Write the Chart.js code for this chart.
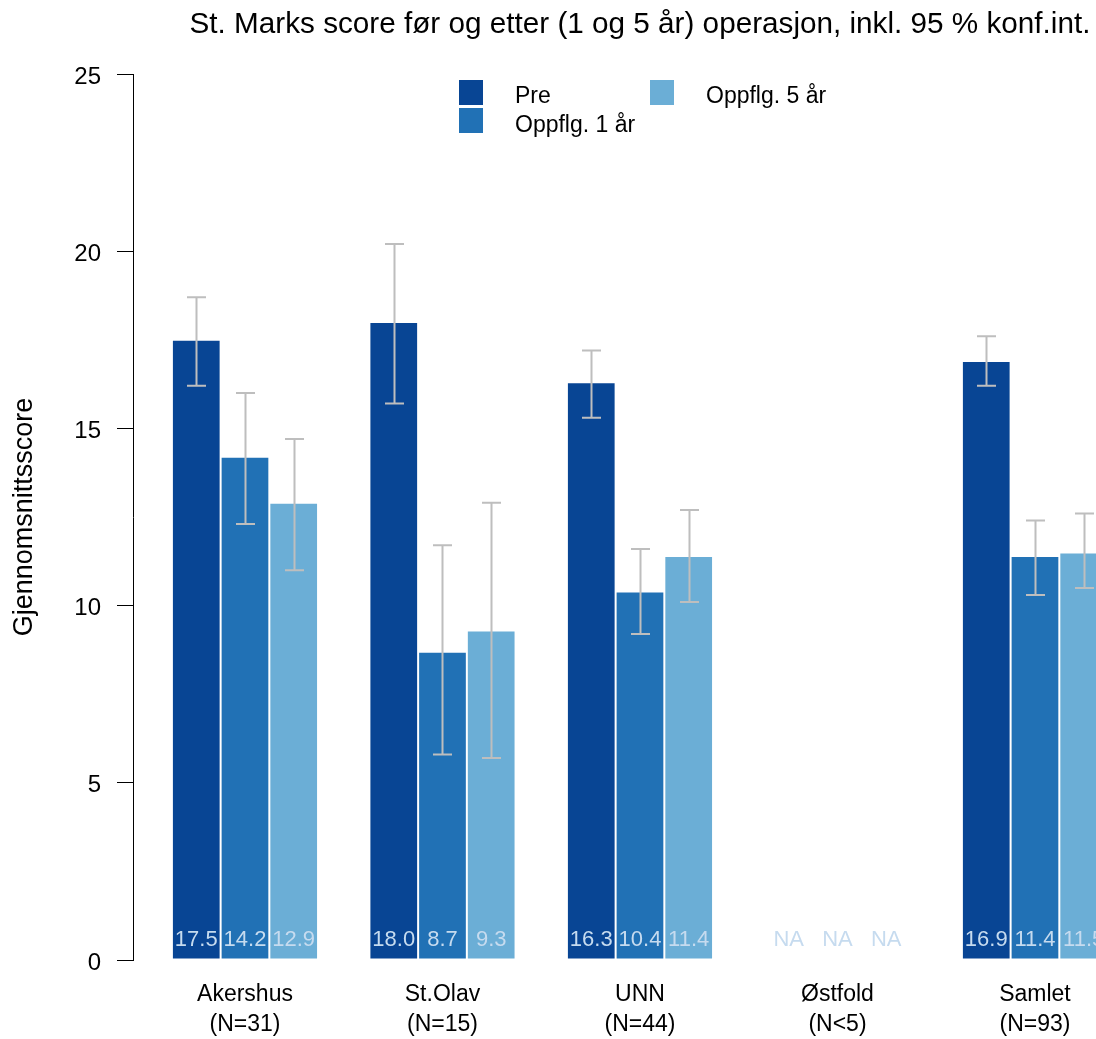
<!DOCTYPE html>
<html>
<head>
<meta charset="utf-8">
<script src="https://cdn.jsdelivr.net/npm/chart.js@4"></script>
<style>
  html, body { margin: 0; padding: 0; background: #ffffff; }
  #wrap { position: relative; width: 1096px; height: 1039px; overflow: hidden; }
</style>
</head>
<body>
<div id="wrap"><canvas id="c" width="1096" height="1039"></canvas></div>
<script>
// Hospitals (x categories) with patient counts
const hospitals = ['Akershus', 'St.Olav', 'UNN', 'Østfold', 'Samlet'];
const patientCounts = ['(N=31)', '(N=15)', '(N=44)', '(N<5)', '(N=93)'];

// Mean St. Marks score per timepoint (null = not reported)
const preScore   = [17.5, 18.0, 16.3, null, 16.9];
const year1Score = [14.2, 8.7, 10.4, null, 11.4];
const year5Score = [12.9, 9.3, 11.4, null, 11.5];

// 95 % confidence interval bounds
const preLow    = [16.2, 15.7, 15.3, null, 16.2];
const preHigh   = [18.7, 20.2, 17.2, null, 17.6];
const year1Low  = [12.3, 5.8, 9.2, null, 10.3];
const year1High = [16.0, 11.7, 11.6, null, 12.4];
const year5Low  = [11.0, 5.7, 10.1, null, 10.5];
const year5High = [14.7, 12.9, 12.7, null, 12.6];

// Axis ticks
const yTicks = [0, 5, 10, 15, 20, 25];

const seriesLabels = ['Pre', 'Oppflg. 1 år', 'Oppflg. 5 år'];
const seriesColors = ['#084594', '#2171b5', '#6baed6'];
const ciColor = '#bebebe';
const valueLabelColor = '#c6dbef';
const FONT = '"Liberation Sans", Arial, sans-serif';

const toPoints = arr => arr.map((v, i) => ({ x: i, y: v }));

const intervals = [
  { low: preLow, high: preHigh },
  { low: year1Low, high: year1High },
  { low: year5Low, high: year5High }
];

// Error bars, value labels, title and legend
const annotations = {
  id: 'annotations',
  afterDatasetsDraw(chart) {
    const ctx = chart.ctx;
    const y = chart.scales.y;
    const x = chart.scales.x;
    ctx.save();

    // confidence interval whiskers
    chart.data.datasets.forEach((ds, di) => {
      const meta = chart.getDatasetMeta(di);
      const ci = intervals[di];
      meta.data.forEach((bar, i) => {
        if (ci.low[i] == null) return;
        const cx = Math.round(bar.x) + 0.5;
        const yl = y.getPixelForValue(ci.low[i]);
        const yh = y.getPixelForValue(ci.high[i]);
        ctx.strokeStyle = ciColor;
        ctx.lineWidth = 2;
        ctx.beginPath();
        ctx.moveTo(cx, yl); ctx.lineTo(cx, yh);
        ctx.moveTo(cx - 9.5, yl); ctx.lineTo(cx + 9.5, yl);
        ctx.moveTo(cx - 9.5, yh); ctx.lineTo(cx + 9.5, yh);
        ctx.stroke();
      });
    });

    // value labels at bar bottoms
    ctx.font = '22px ' + FONT;
    ctx.textAlign = 'center';
    ctx.textBaseline = 'alphabetic';
    ctx.fillStyle = valueLabelColor;
    chart.data.datasets.forEach((ds, di) => {
      const meta = chart.getDatasetMeta(di);
      meta.data.forEach((bar, i) => {
        const v = ds.data[i].y;
        const txt = v == null ? 'NA' : v.toFixed(1);
        ctx.fillText(txt, bar.x, 946);
      });
    });

    // title centred over the plot region
    ctx.fillStyle = '#000000';
    ctx.font = '29.7px ' + FONT;
    ctx.textAlign = 'center';
    ctx.fillText('St. Marks score før og etter (1 og 5 år) operasjon, inkl. 95 % konf.int.',
      x.getPixelForValue(2), 33);

    // legend (two columns)
    const items = [
      { sx: 459, sy: 80, tx: 515, ty: 103 },
      { sx: 459, sy: 108, tx: 515, ty: 132 },
      { sx: 650, sy: 80, tx: 706, ty: 103 }
    ];
    ctx.font = '23px ' + FONT;
    ctx.textAlign = 'left';
    items.forEach((it, k) => {
      ctx.fillStyle = chart.data.datasets[k].backgroundColor;
      ctx.fillRect(it.sx, it.sy, 24, 25);
      ctx.fillStyle = '#000000';
      ctx.fillText(chart.data.datasets[k].label, it.tx, it.ty);
    });

    ctx.restore();
  }
};

new Chart(document.getElementById('c'), {
  type: 'bar',
  data: {
    datasets: [
      { label: seriesLabels[0], data: toPoints(preScore),   backgroundColor: seriesColors[0] },
      { label: seriesLabels[1], data: toPoints(year1Score), backgroundColor: seriesColors[1] },
      { label: seriesLabels[2], data: toPoints(year5Score), backgroundColor: seriesColors[2] }
    ]
  },
  options: {
    responsive: false,
    animation: false,
    devicePixelRatio: 1,
    layout: { padding: { top: 74, right: 0, bottom: 0, left: 0 } },
    datasets: {
      bar: {
        borderColor: '#ffffff',
        borderWidth: 1,
        borderSkipped: false,
        categoryPercentage: 0.74,
        barPercentage: 1.0
      }
    },
    plugins: {
      legend: { display: false },
      title: { display: false },
      tooltip: { enabled: false }
    },
    scales: {
      x: {
        type: 'linear',
        offset: false,
        min: -0.567,
        max: 4.309,
        grid: { display: false, drawTicks: false },
        border: { display: false },
        afterFit(scale) { scale.height = 79; },
        afterBuildTicks(scale) {
          scale.ticks = hospitals.map((_, i) => ({ value: i }));
        },
        ticks: {
          autoSkip: false,
          maxRotation: 0,
          padding: 20,
          color: '#000000',
          font: { family: FONT, size: 23, lineHeight: 1.3 },
          callback: v => [hospitals[v], patientCounts[v]]
        }
      },
      y: {
        min: 0,
        max: 25,
        afterFit(scale) { scale.width = 133; },
        afterBuildTicks(scale) {
          scale.ticks = yTicks.map(v => ({ value: v }));
        },
        grid: {
          drawOnChartArea: false,
          drawTicks: true,
          tickLength: 16,
          color: '#000000',
          lineWidth: 1
        },
        border: { display: true, color: '#000000', width: 1 },
        ticks: {
          padding: 16,
          labelOffset: 3,
          color: '#000000',
          font: { family: FONT, size: 24 }
        },
        title: {
          display: true,
          text: 'Gjennomsnittsscore',
          color: '#000000',
          font: { family: FONT, size: 27 },
          padding: { top: 8, bottom: 0 }
        }
      }
    }
  },
  plugins: [annotations]
});
</script>
</body>
</html>
